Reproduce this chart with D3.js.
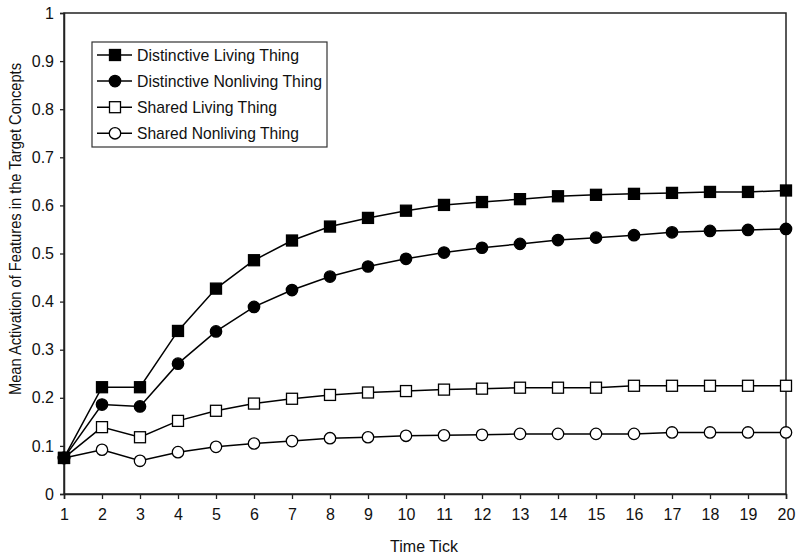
<!DOCTYPE html>
<html><head><meta charset="utf-8">
<script src="https://cdn.jsdelivr.net/npm/d3@7/dist/d3.min.js"></script>
<style>body{margin:0;background:#fff;} text{font-family:"Liberation Sans",Arial,sans-serif;fill:#111;}</style>
</head><body><svg id="c" width="800" height="557"></svg>
<script>
const ticks = d3.range(1, 21);
const yTicks = [0,0.1,0.2,0.3,0.4,0.5,0.6,0.7,0.8,0.9,1];
const distinctiveLiving = [0.075,0.222,0.222,0.339,0.427,0.486,0.527,0.556,0.574,0.589,0.601,0.607,0.613,0.619,0.622,0.624,0.626,0.628,0.628,0.631];
const distinctiveNonliving = [0.075,0.186,0.182,0.271,0.338,0.389,0.424,0.452,0.473,0.489,0.502,0.512,0.520,0.528,0.533,0.538,0.544,0.547,0.549,0.551];
const sharedLiving = [0.075,0.139,0.118,0.152,0.173,0.188,0.198,0.206,0.211,0.214,0.217,0.219,0.221,0.221,0.221,0.225,0.225,0.225,0.225,0.225];
const sharedNonliving = [0.075,0.092,0.069,0.087,0.098,0.105,0.110,0.116,0.118,0.121,0.122,0.123,0.125,0.125,0.125,0.125,0.128,0.128,0.128,0.128];
const seriesNames = ["Distinctive Living Thing","Distinctive Nonliving Thing","Shared Living Thing","Shared Nonliving Thing"];
const seriesValues = [distinctiveLiving, distinctiveNonliving, sharedLiving, sharedNonliving];
const markerShapes = ["square","circle","square","circle"];
const markerFilled = [true,true,false,false];

const svg = d3.select("#c");
const L=64, R=786, T=13, B=494;
const x = d3.scaleLinear().domain([1,20]).range([L,R]);
const y = d3.scaleLinear().domain([0,1]).range([B,T]);

svg.append("rect").attr("x",L).attr("y",T).attr("width",R-L).attr("height",B-T)
  .attr("fill","none").attr("stroke","#222").attr("stroke-width",1.5);

const yAxis = svg.append("g").attr("transform",`translate(${L},0)`)
  .call(d3.axisLeft(y).tickValues(yTicks).tickFormat(d=>d===0||d===1?String(d):d3.format(".1f")(d)).tickSize(4).tickPadding(6));
const xAxis = svg.append("g").attr("transform",`translate(0,${B})`)
  .call(d3.axisBottom(x).tickValues(ticks).tickFormat(d3.format("d")).tickSize(5).tickPadding(10));
[yAxis,xAxis].forEach(a=>{
  a.select(".domain").attr("stroke","#222").attr("stroke-width",1.5);
  a.selectAll(".tick line").attr("stroke","#222").attr("stroke-width",1.3);
  a.selectAll("text").attr("font-size",16).attr("font-family","Liberation Sans, Arial, sans-serif").attr("fill","#111");
});

svg.append("text").attr("x",424).attr("y",552).attr("text-anchor","middle").attr("font-size",16).text("Time Tick");
svg.append("text").attr("transform","translate(21,229) rotate(-90)").attr("text-anchor","middle").attr("font-size",16)
  .attr("textLength",332).attr("lengthAdjust","spacingAndGlyphs")
  .text("Mean Activation of Features in the Target Concepts");

const line = d3.line().x((d,i)=>x(ticks[i])).y(d=>y(d));
function marker(g, shape, filled, cx, cy){
  if(shape==="square"){
    g.append("rect").attr("x",cx-5.5).attr("y",cy-5.5).attr("width",11).attr("height",11)
      .attr("fill",filled?"#000":"#fff").attr("stroke","#000").attr("stroke-width",1.3);
  } else {
    g.append("circle").attr("cx",cx).attr("cy",cy).attr("r",5.7)
      .attr("fill",filled?"#000":"#fff").attr("stroke","#000").attr("stroke-width",1.3);
  }
}
for(let s=seriesValues.length-1;s>=0;s--){
  const vals = seriesValues[s];
  const g = svg.append("g");
  g.append("path").attr("d",line(vals)).attr("fill","none").attr("stroke","#000").attr("stroke-width",1.5);
  vals.forEach((v,i)=>marker(g, markerShapes[s], markerFilled[s], x(ticks[i]), y(v)));
}

const legendWidths = [162,185,140,162];
const lg = svg.append("g");
lg.append("rect").attr("x",92).attr("y",42).attr("width",235).attr("height",105)
  .attr("fill","#fff").attr("stroke","#333").attr("stroke-width",1.2);
seriesNames.forEach((n,i)=>{
  const cy = 55 + i*26.1;
  lg.append("line").attr("x1",97).attr("x2",132).attr("y1",cy).attr("y2",cy).attr("stroke","#000").attr("stroke-width",1.5);
  marker(lg, markerShapes[i], markerFilled[i], 115, cy);
  lg.append("text").attr("x",137).attr("y",cy+6).attr("font-size",17).text(n)
    .attr("textLength",legendWidths[i]).attr("lengthAdjust","spacingAndGlyphs");
});
</script></body></html>
